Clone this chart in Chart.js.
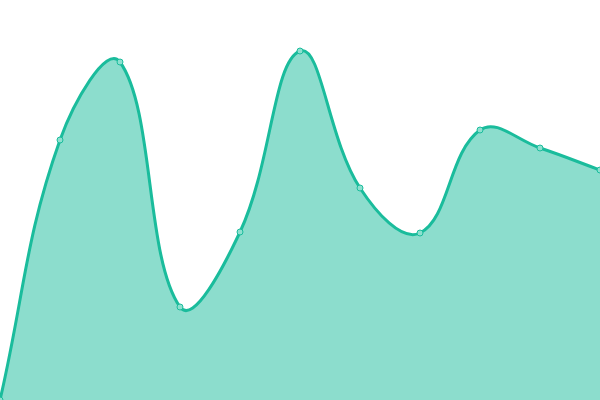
<!DOCTYPE html>
<html>
<head>
<meta charset="utf-8">
<script src="https://cdn.jsdelivr.net/npm/chart.js@4"></script>
<style>
  html, body { margin: 0; padding: 0; background: #fff; }
  .chart-wrap { width: 600px; height: 400px; }
</style>
</head>
<body>
<div class="chart-wrap"><canvas class="js-graph"></canvas></div>
<script>
const labels = ['1', '2', '3', '4', '5', '6', '7', '8', '9', '10', '11'];
const values = [0, 260, 338, 93, 168, 349, 212, 167, 270, 252, 230];
const y_min = 0;
const y_max = 400;

const draw_chart = () => {
    const ctx = document.querySelector(".js-graph").getContext("2d");

    new Chart(ctx, {
        type: 'line',
        data: {
            labels: labels,
            datasets: [{
                data: values,
                fill: true,
                backgroundColor: 'rgba(26, 188, 156, 0.5)',
                borderColor: '#1abc9c',
                borderWidth: 3,
                pointRadius: 3,
                pointBorderWidth: 1,
                pointBackgroundColor: '#8de0cf',
                pointBorderColor: '#1abc9c',
                tension: 0.4,
                clip: false
            }]
        },
        options: {
            responsive: true,
            maintainAspectRatio: false,
            animation: false,
            layout: { padding: 0, autoPadding: false },
            scales: {
                x: { display: false, offset: false },
                y: { display: false, min: y_min, max: y_max }
            },
            plugins: {
                legend: { display: false },
                tooltip: { enabled: false }
            }
        }
    });
};

draw_chart();
</script>
</body>
</html>
